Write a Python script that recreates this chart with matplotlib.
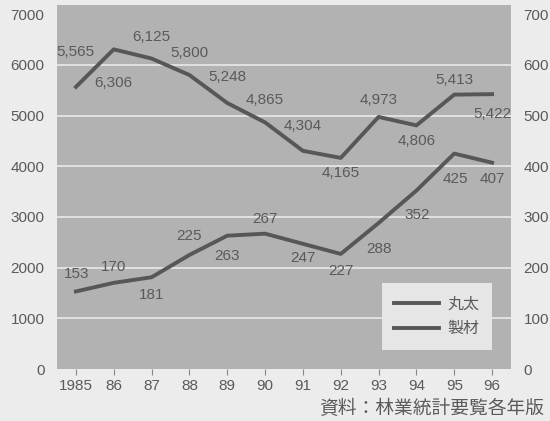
import matplotlib.pyplot as plt
import numpy as np

# 丸太・製材の推移
years = ['1985', '86', '87', '88', '89', '90', '91', '92', '93', '94', '95', '96']
maruta = [5565, 6306, 6125, 5800, 5248, 4865, 4304, 4165, 4973, 4806, 5413, 5422]
seizai = [153, 170, 181, 225, 263, 267, 247, 227, 288, 352, 425, 407]

# ラベルのずらし量 (pixel)
maruta_off = [(0, 35), (0, -34), (0, 22), (0, 22), (0, 26), (0, 22),
              (0, 25), (0, -15), (0, 17), (0, -16), (0, 15), (0, -20)]
seizai_off = [(1, 17), (0, 16), (0, -18), (0, 19), (0, -20), (0, 15),
              (0, -14), (0, -17), (0, -26), (1, -24), (1, -25), (0, -16)]

plt.rcParams['font.family'] = ['Liberation Sans', 'Noto Sans CJK JP', 'DejaVu Sans']

line_c = '#575757'
text_c = '#5a5a5a'

fig = plt.figure(figsize=(5.5, 4.21), dpi=100)
fig.patch.set_facecolor('#ececec')
ax = fig.add_axes([0.1036, 0.1235, 0.8255, 0.8645])
ax.set_facecolor('#b2b2b2')

x = np.arange(len(years))
ax.set_xlim(-0.5, len(years) - 0.5)
ax.set_ylim(0, 7180)
for v in range(1000, 7000, 1000):
    ax.axhline(v, color='#e4e4e4', lw=1.3, zorder=1)

ax.plot(x, maruta, color=line_c, lw=2.8, label='丸太', zorder=3)

ax2 = ax.twinx()
ax2.set_ylim(0, 718)
ax2.plot(x, seizai, color=line_c, lw=2.8, label='製材', zorder=3)

for i, v in enumerate(maruta):
    ax.annotate(f'{v:,}', (x[i], v), xytext=maruta_off[i], textcoords='offset pixels',
                ha='center', va='center', fontsize=11, color=text_c)
for i, v in enumerate(seizai):
    ax2.annotate(f'{v}', (x[i], v), xytext=seizai_off[i], textcoords='offset pixels',
                 ha='center', va='center', fontsize=11, color=text_c)

for a in (ax, ax2):
    for s in a.spines.values():
        s.set_visible(False)

ax.set_xticks(x)
ax.set_xticklabels(years)
ax.set_yticks(range(0, 8000, 1000))
ax2.set_yticks(range(0, 800, 100))
ax.tick_params(axis='x', length=4, color='#888888', colors=text_c, labelsize=11, pad=3)
ax.tick_params(axis='y', length=0, colors=text_c, labelsize=11, pad=9)
ax2.tick_params(axis='y', length=0, colors=text_c, labelsize=11, pad=9)

h1, l1 = ax.get_legend_handles_labels()
h2, l2 = ax2.get_legend_handles_labels()
leg = ax2.legend(h1 + h2, l1 + l2, loc='lower right', bbox_to_anchor=(0.958, 0.052),
                 borderaxespad=0, frameon=True, fancybox=False, framealpha=1,
                 facecolor='#e6e6e6', edgecolor='none', fontsize=11.5,
                 handlelength=2.8, borderpad=0.8, labelspacing=0.5, handletextpad=0.5)
for t in leg.get_texts():
    t.set_color(text_c)
    t.set_family(['Noto Sans CJK JP'])

fig.text(0.99, 0.03, '資料：林業統計要覧各年版', ha='right', va='center',
         fontsize=13.5, color=text_c, family=['Noto Sans CJK JP'])

fig.savefig('out.png', dpi=100, facecolor=fig.get_facecolor())
